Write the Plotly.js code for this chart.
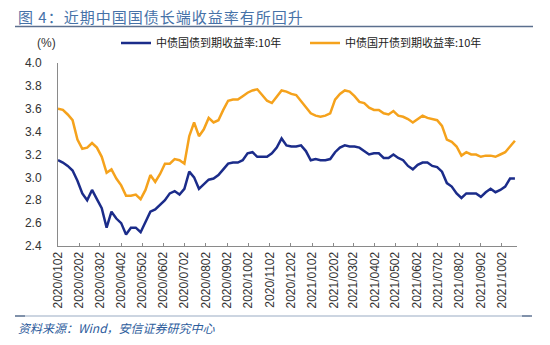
<!DOCTYPE html>
<html>
<head>
<meta charset="utf-8">
<script src="https://cdn.plot.ly/plotly-3.0.1.min.js"></script>
<style>html,body{margin:0;padding:0;background:#fff;}#chart{width:550px;height:345px;}</style>
</head>
<body>
<div id="chart"></div>
<script>
var dates = [
"2020-01-02","2020-01-09","2020-01-16","2020-01-23","2020-01-30","2020-02-06","2020-02-13","2020-02-20","2020-02-27",
"2020-03-05","2020-03-12","2020-03-19","2020-03-26","2020-04-02","2020-04-09","2020-04-16","2020-04-23","2020-04-30",
"2020-05-07","2020-05-14","2020-05-21","2020-05-28","2020-06-04","2020-06-11","2020-06-18","2020-06-25","2020-07-02",
"2020-07-09","2020-07-16","2020-07-23","2020-07-30","2020-08-06","2020-08-13","2020-08-20","2020-08-27","2020-09-03",
"2020-09-10","2020-09-17","2020-09-24","2020-10-01","2020-10-08","2020-10-15","2020-10-22","2020-10-29","2020-11-05",
"2020-11-12","2020-11-19","2020-11-26","2020-12-03","2020-12-10","2020-12-17","2020-12-24","2020-12-31",
"2021-01-07","2021-01-14","2021-01-21","2021-01-28","2021-02-04","2021-02-11","2021-02-18","2021-02-25","2021-03-04",
"2021-03-11","2021-03-18","2021-03-25","2021-04-01","2021-04-08","2021-04-15","2021-04-22","2021-04-29","2021-05-06",
"2021-05-13","2021-05-20","2021-05-27","2021-06-03","2021-06-10","2021-06-17","2021-06-24","2021-07-01","2021-07-08",
"2021-07-15","2021-07-22","2021-07-29","2021-08-05","2021-08-12","2021-08-19","2021-08-26","2021-09-02","2021-09-09",
"2021-09-16","2021-09-23","2021-09-30","2021-10-07","2021-10-14","2021-10-21"];

var govYield = [
3.15,3.13,3.10,3.06,2.97,2.86,2.80,2.89,2.81,
2.73,2.56,2.70,2.64,2.60,2.50,2.56,2.56,2.52,
2.61,2.70,2.72,2.76,2.80,2.86,2.88,2.85,2.90,
3.05,3.00,2.90,2.94,2.98,2.99,3.02,3.07,3.12,
3.13,3.13,3.15,3.21,3.22,3.18,3.18,3.18,3.21,
3.26,3.34,3.28,3.27,3.27,3.28,3.23,3.15,
3.16,3.15,3.15,3.16,3.22,3.26,3.28,3.27,3.27,
3.26,3.23,3.20,3.21,3.21,3.17,3.17,3.20,3.17,
3.15,3.10,3.07,3.11,3.13,3.13,3.10,3.09,3.05,
2.95,2.92,2.86,2.82,2.86,2.86,2.86,2.83,2.87,
2.90,2.87,2.89,2.92,2.99,2.99];

var cdbYield = [
3.60,3.59,3.55,3.50,3.33,3.25,3.26,3.30,3.26,
3.18,3.04,3.07,2.99,2.93,2.84,2.84,2.85,2.81,
2.89,3.02,2.96,3.03,3.12,3.12,3.16,3.15,3.12,
3.36,3.48,3.36,3.42,3.52,3.48,3.50,3.59,3.67,
3.68,3.68,3.71,3.74,3.76,3.77,3.72,3.67,3.65,
3.71,3.76,3.75,3.73,3.72,3.67,3.61,3.56,
3.54,3.53,3.54,3.56,3.68,3.73,3.76,3.75,3.71,
3.66,3.65,3.61,3.59,3.59,3.56,3.55,3.58,3.54,
3.53,3.51,3.48,3.51,3.54,3.52,3.51,3.50,3.45,
3.33,3.31,3.27,3.19,3.22,3.20,3.20,3.18,3.19,
3.19,3.18,3.20,3.22,3.27,3.32];

var tickDates = ["2020-01-02","2020-02-02","2020-03-02","2020-04-02","2020-05-02","2020-06-02","2020-07-02",
"2020-08-02","2020-09-02","2020-10-02","2020-11-02","2020-12-02","2021-01-02","2021-02-02","2021-03-02",
"2021-04-02","2021-05-02","2021-06-02","2021-07-02","2021-08-02","2021-09-02","2021-10-02"];
var tickLabels = ["2020/0102","2020/0202","2020/0302","2020/0402","2020/0502","2020/0602","2020/0702",
"2020/0802","2020/0902","2020/1002","2020/1102","2020/1202","2021/0102","2021/0202","2021/0302",
"2021/0402","2021/0502","2021/0602","2021/0702","2021/0802","2021/0902","2021/1002"];

var seriesNames = ["中债国债到期收益率:10年","中债国开债到期收益率:10年"];
var titleText = "图 4：近期中国国债长端收益率有所回升";
var sourceText = "资料来源：Wind，安信证券研究中心";

// layout geometry (pixels)
var W = 550, H = 345, L = 58, R = 517, T = 63, B = 246;
function px(x){ return (x - L) / (R - L); }
function py(y){ return (B - y) / (B - T); }

var traces = [
  {x: dates, y: govYield, name: seriesNames[0], type: "scatter", mode: "lines",
   line: {color: "#1b2c8a", width: 2.5}},
  {x: dates, y: cdbYield, name: seriesNames[1], type: "scatter", mode: "lines",
   line: {color: "#f5a21c", width: 2.5}}
];

var layout = {
  width: W, height: H,
  margin: {l: L, r: W - R, t: T, b: H - B, pad: 0},
  paper_bgcolor: "#ffffff", plot_bgcolor: "#ffffff",
  font: {family: "Liberation Sans, Arial, sans-serif", size: 12, color: "#333"},
  showlegend: true,
  legend: {orientation: "h", x: px(116), xanchor: "left", y: py(43), yanchor: "middle",
    font: {family: "Noto Sans CJK SC, sans-serif", size: 11, color: "#222"},
    entrywidth: 144, entrywidthmode: "pixels", itemwidth: 30, bgcolor: "rgba(0,0,0,0)",
    tracegroupgap: 0},
  xaxis: {type: "date", range: ["2020-01-02", "2021-10-24"], tickmode: "array",
    tickvals: tickDates, ticktext: tickLabels, tickangle: -90,
    showgrid: false, zeroline: false, showline: true, linecolor: "#8a8a8a", linewidth: 1,
    ticks: "inside", ticklen: 3, tickcolor: "#8a8a8a",
    tickfont: {family: "Liberation Sans, Arial, sans-serif", size: 12, color: "#333"},
    fixedrange: true},
  yaxis: {range: [2.4, 4.0], dtick: 0.2, tick0: 2.4, tickformat: ".1f",
    showgrid: false, zeroline: false, showline: true, linecolor: "#8a8a8a", linewidth: 1,
    ticks: "", ticklabelstandoff: 13,
    tickfont: {family: "Liberation Sans, Arial, sans-serif", size: 12, color: "#333"},
    fixedrange: true},
  shapes: [
    {type: "line", xref: "paper", yref: "paper", x0: px(15), x1: px(533), y0: py(26.5), y1: py(26.5),
     line: {color: "#5b6f8e", width: 1.5}},
    {type: "line", xref: "paper", yref: "paper", x0: px(15), x1: px(530), y0: py(316), y1: py(316),
     line: {color: "#9aabc4", width: 1.2}},
    {type: "line", xref: "paper", yref: "paper", x0: px(15), x1: px(25), y0: py(316), y1: py(316),
     line: {color: "#6c7f9c", width: 1.6}},
    {type: "line", xref: "paper", yref: "paper", x0: px(522), x1: px(532), y0: py(316), y1: py(316),
     line: {color: "#6c7f9c", width: 1.6}}
  ],
  annotations: [
    {text: "<span style=\"letter-spacing:1px\">" + titleText + "</span>", xref: "paper", yref: "paper",
     x: px(16), y: py(16.5), xanchor: "left", yanchor: "middle",
     showarrow: false, font: {family: "Noto Sans CJK SC, sans-serif", size: 15, color: "#4672a8"}},
    {text: "(%)", xref: "paper", yref: "paper", x: px(35), y: py(43), xanchor: "left", yanchor: "middle",
     showarrow: false, font: {family: "Liberation Sans, Arial, sans-serif", size: 12, color: "#333"}},
    {text: "<i>" + sourceText + "</i>", xref: "paper", yref: "paper", x: px(16), y: py(327), xanchor: "left", yanchor: "middle",
     showarrow: false, font: {family: "Noto Sans CJK SC, sans-serif", size: 12, color: "#2d5c9c"}}
  ]
};

Plotly.newPlot("chart", traces, layout, {displayModeBar: false, staticPlot: true});
</script>
</body>
</html>
